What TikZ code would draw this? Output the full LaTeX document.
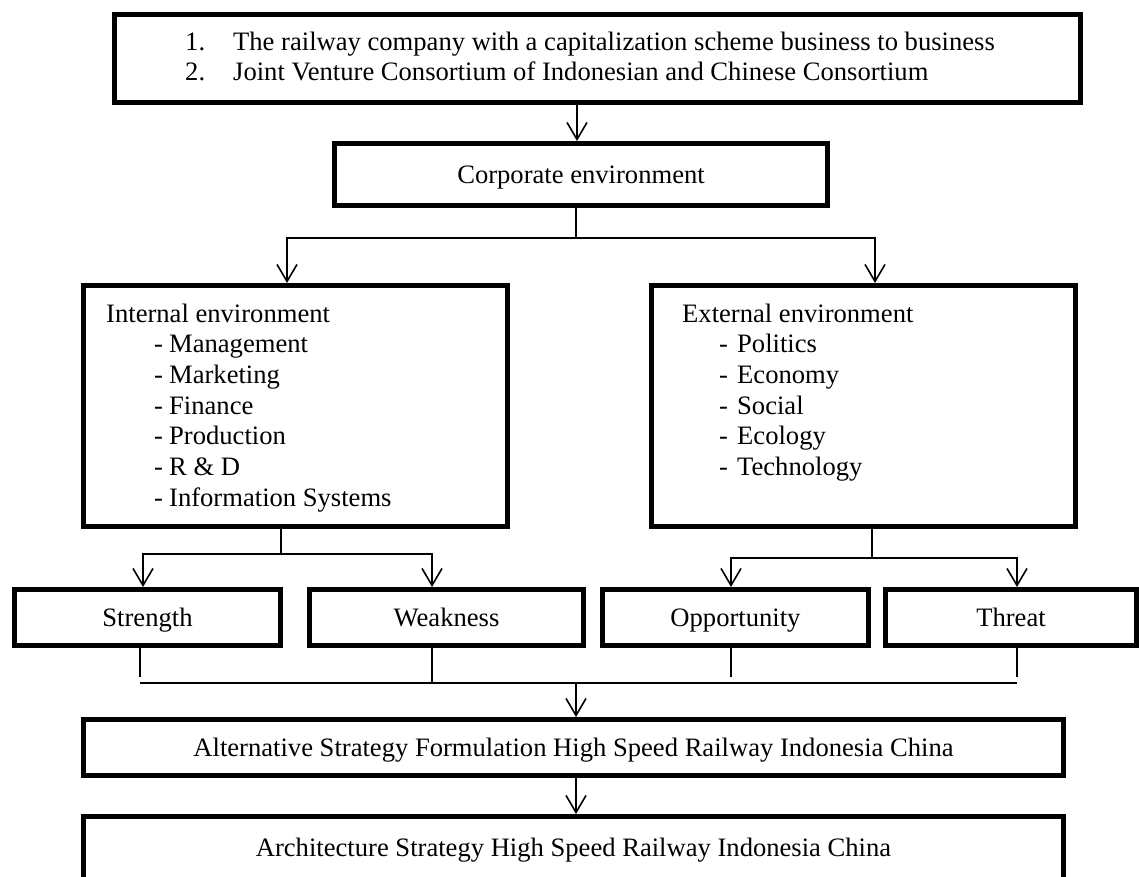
\documentclass[tikz,border=0pt]{standalone}
\usepackage{fontspec}
\setmainfont{Liberation Serif}
\usetikzlibrary{arrows.meta}
\newcommand{\dgfont}{\fontsize{26.6}{30.7}\selectfont}
\begin{document}
\begin{tikzpicture}[x=1pt,y=-1pt,
  box/.style={draw, line width=5pt, inner sep=0pt, font=\dgfont, text height=21pt, text depth=4pt},
  ln/.style={line width=1.6pt},
  arr/.style={line width=1.6pt, -{Straight Barb[length=17pt,width=20pt]}},
  txt/.style={inner sep=0pt, anchor=base west, font=\dgfont},
]
\fill[white] (0,0) rectangle (1139,876);
\clip (0,0) rectangle (1139,876);

% boxes
\node[box, minimum width=966pt, minimum height=88pt] (top) at (597.5,58.5) {};
\node[box, minimum width=493pt, minimum height=62pt] (corp) at (581,174.5) {Corporate environment};
\node[box, minimum width=424pt, minimum height=241pt] (int) at (295.5,406) {};
\node[box, minimum width=424pt, minimum height=241pt] (ext) at (863.5,406) {};
\node[box, minimum width=266pt, minimum height=56pt] (S) at (147.5,617.5) {Strength};
\node[box, minimum width=274pt, minimum height=56pt] (W) at (446.5,617.5) {Weakness};
\node[box, minimum width=266pt, minimum height=56pt] (O) at (735.5,617.5) {Opportunity};
\node[box, minimum width=251pt, minimum height=56pt] (T) at (1011,617.5) {Threat};
\node[box, minimum width=980pt, minimum height=56pt] (alt) at (573.5,747.5) {Alternative Strategy Formulation High Speed Railway Indonesia China};
\node[box, minimum width=980pt, minimum height=63pt] (arch) at (573.5,848) {Architecture Strategy High Speed Railway Indonesia China};

% texts
\node[txt] (toptxt) at (185,50) {\begin{tabular}[t]{@{}l@{}}
\makebox[48pt][l]{1.}The railway company with a capitalization scheme business to business\\
\makebox[48pt][l]{2.}Joint Venture Consortium of Indonesian and Chinese Consortium
\end{tabular}};
\node[txt] (inttxt) at (106,322) {\begin{tabular}[t]{@{}l@{}}
Internal environment\\
\hspace*{48pt}\makebox[15pt][l]{-}Management\\
\hspace*{48pt}\makebox[15pt][l]{-}Marketing\\
\hspace*{48pt}\makebox[15pt][l]{-}Finance\\
\hspace*{48pt}\makebox[15pt][l]{-}Production\\
\hspace*{48pt}\makebox[15pt][l]{-}R \& D\\
\hspace*{48pt}\makebox[15pt][l]{-}Information Systems
\end{tabular}};
\node[txt] (exttxt) at (682,322) {\begin{tabular}[t]{@{}l@{}}
External environment\\
\hspace*{37pt}\makebox[18pt][l]{-}Politics\\
\hspace*{37pt}\makebox[18pt][l]{-}Economy\\
\hspace*{37pt}\makebox[18pt][l]{-}Social\\
\hspace*{37pt}\makebox[18pt][l]{-}Ecology\\
\hspace*{37pt}\makebox[18pt][l]{-}Technology
\end{tabular}};

% connectors
\draw[arr] (577,0 |- top.south) -- (577,0 |- corp.north);

\coordinate (j1) at (576,238);
\draw[ln] (576,0 |- corp.south) -- (j1);
\draw[arr] (j1) -| (287,0 |- int.north);
\draw[arr] (j1) -| (875,0 |- ext.north);

\coordinate (j2) at (281,554);
\draw[ln] (281,0 |- int.south) -- (j2);
\draw[arr] (j2) -| (143,0 |- S.north);
\draw[arr] (j2) -| (432,0 |- W.north);

\coordinate (j3) at (872,558);
\draw[ln] (872,0 |- ext.south) -- (j3);
\draw[arr] (j3) -| (731,0 |- O.north);
\draw[arr] (j3) -| (1017,0 |- T.north);

\coordinate (hl) at (140,683);
\coordinate (hr) at (1017,683);
\coordinate (hm) at (576,683);
\draw[ln] (140,0 |- S.south) -- (140,677);
\draw[ln] (432,0 |- W.south) -- (432,683);
\draw[ln] (731,0 |- O.south) -- (731,677);
\draw[ln] (1017,0 |- T.south) -- (1017,677);
\draw[ln] (hl) -- (hr);
\draw[arr] (hm) -- (576,0 |- alt.north);
\draw[arr] (576,0 |- alt.south) -- (576,0 |- arch.north);
\end{tikzpicture}
\end{document}
